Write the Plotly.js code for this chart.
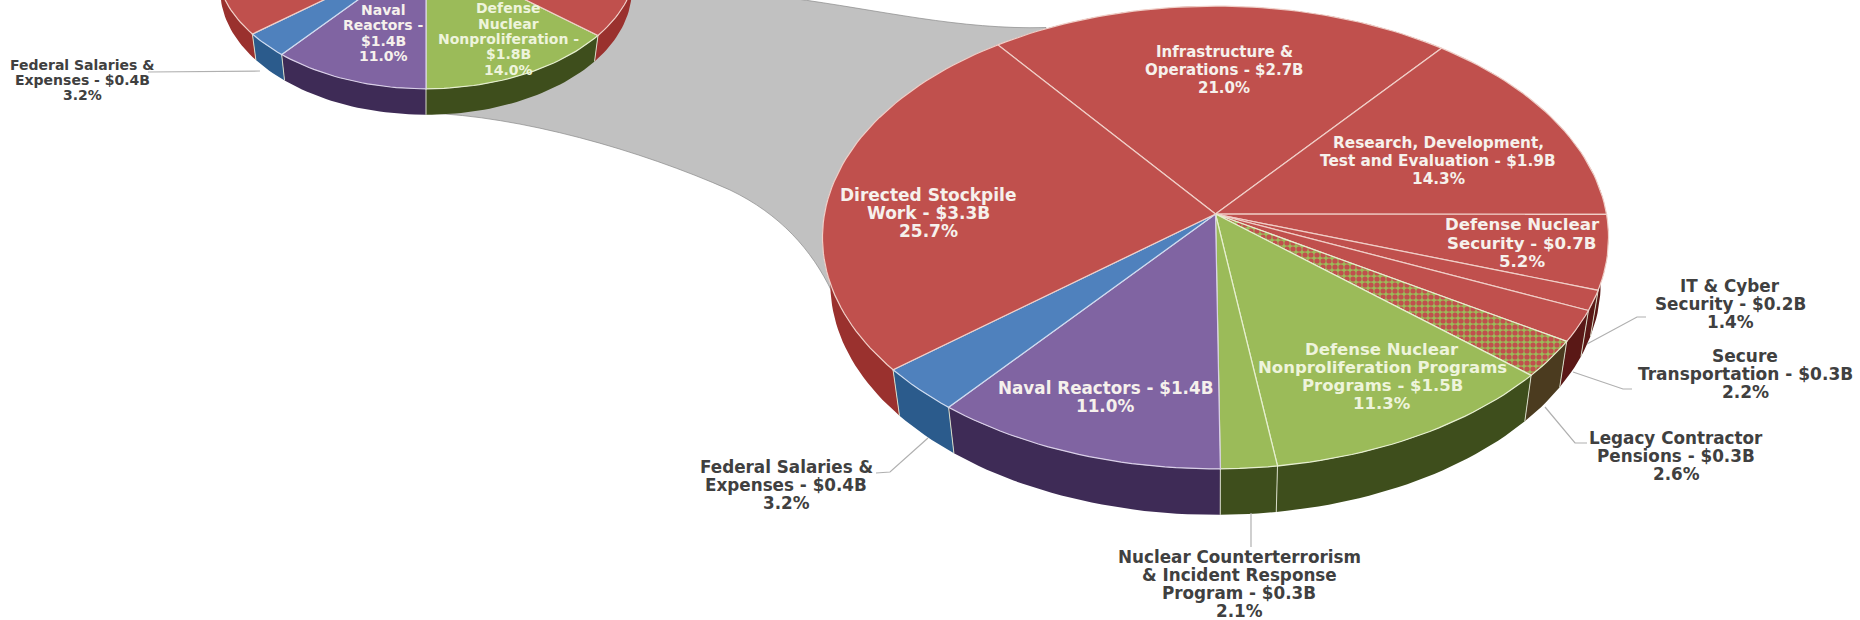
<!DOCTYPE html>
<html>
<head>
<meta charset="utf-8">
<script src="https://cdn.plot.ly/plotly-3.0.1.min.js"></script>
<style>html,body{margin:0;padding:0;background:#fff}#chart{width:1860px;height:620px}</style>
</head>
<body>
<div id="chart"></div>
<script>
// ---- data ----
const bigCategories = ["Infrastructure & Operations","Research, Development, Test and Evaluation","Defense Nuclear Security","IT & Cyber Security","Secure Transportation","Legacy Contractor Pensions","Defense Nuclear Nonproliferation Programs","Nuclear Counterterrorism & Incident Response Program","Naval Reactors","Federal Salaries & Expenses","Directed Stockpile Work"];
const bigShares = [21.0,14.3,5.2,1.4,2.2,2.6,11.3,2.1,11.0,3.2,25.7];
const smallCategories = ["Defense Nuclear Nonproliferation","Naval Reactors","Federal Salaries & Expenses","Weapons Activities"];
const smallShares = [14.0,11.0,3.2,71.8];

// ---- styles ----
const RED="#c0504d",GREEN="#9bbb59",PURPLE="#8064a2",BLUE="#4f81bd";
const bigTop=[RED,RED,RED,RED,RED,"pattern",GREEN,GREEN,PURPLE,BLUE,RED];
const bigWall=["#5a1816","#5a1816","#5a1816","#5a1816","#5a1816","#4b3b1f","#3e4e1c","#3e4e1c","#3e2b56","#2b5b8c","#9a312e"];
const smallTop=[GREEN,PURPLE,BLUE,RED];
const smallWall=["#3e4e1c","#3e2b56","#2b5b8c","#9a312e"];
const edge={[RED]:"#f0cfc8",[GREEN]:"#e6efcf",[PURPLE]:"#d9cfe8",[BLUE]:"#cfdcf0",pattern:"#e6efcf"};

// ---- perspective geometry of the two tilted discs ----
const bigDisc={cx:1215.5,cy:214,R:391,S:229,p:0.1015,depth:46,shrink:0.98,start:-37};
const smallDisc={cx:426,cy:-49,R:209,S:124,p:0.1,depth:26,shrink:0.98,start:129.6};

function rim(d,deg){const t=deg*Math.PI/180,u=Math.cos(t),v=Math.sin(t),k=1+d.p*u;
  return [d.cx+d.R*v/k,d.cy-d.S*u/k];}
function under(d,pt){return [d.cx+(pt[0]-d.cx)*d.shrink,pt[1]+d.depth];}
function arc(d,a,b){const n=Math.max(2,Math.ceil((b-a)/1.5)),o=[];
  for(let i=0;i<=n;i++)o.push(rim(d,a+(b-a)*i/n));return o;}

const traces=[];
function poly(pts,style,name){
  traces.push(Object.assign({type:"scatter",mode:"lines",x:pts.map(p=>p[0]),y:pts.map(p=>p[1]),
    fill:"toself",showlegend:false,name:name,hoverinfo:"name"},style));
}
function drawDisc(d,cats,shares,topCols,wallCols){
  const ang=[];let c=d.start;
  shares.forEach(s=>{ang.push([c,c+s*3.6]);c+=s*3.6;});
  ang.forEach((a,i)=>{
    const top=arc(d,a[0],a[1]),bot=top.map(p=>under(d,p)).reverse();
    poly(top.concat(bot,[top[0]]),{fillcolor:wallCols[i],line:{width:0}},cats[i]);
  });
  ang.forEach(a=>{
    const t=((a[0]%360)+360)%360;
    if(t>100&&t<262){const p=rim(d,a[0]),q=under(d,p);
      traces.push({type:"scatter",mode:"lines",x:[p[0],q[0]],y:[p[1],q[1]],line:{color:"#d8dcc8",width:1},showlegend:false,hoverinfo:"skip"});}
  });
  ang.forEach((a,i)=>{
    const pts=[[d.cx,d.cy]].concat(arc(d,a[0],a[1]),[[d.cx,d.cy]]);
    const col=topCols[i];
    const st={line:{color:edge[col],width:1.2}};
    if(col==="pattern"){st.fillcolor=GREEN;st.fillpattern={shape:".",fgcolor:RED,bgcolor:GREEN,size:6,solidity:0.6,fillmode:"replace"};}
    else st.fillcolor=col;
    poly(pts,st,cats[i]);
  });
}
drawDisc(smallDisc,smallCategories,smallShares,smallTop,smallWall);
drawDisc(bigDisc,bigCategories,bigShares,bigTop,bigWall);

// ---- labels: lines, centre x, centre y, colour, font size, line step ----
const WHITE="#f6f1ec",LIGHT="#eef4dc",DARK="#404040";
const labels=[
 [["Infrastructure &","Operations - $2.7B","21.0%"],1224,70,WHITE,15,18.3],
 [["Research, Development,","Test and Evaluation - $1.9B","14.3%"],1438,161,WHITE,15.3,18.3],
 [["Directed Stockpile","Work - $3.3B","25.7%"],928,213,WHITE,17,18.3],
 [["Defense Nuclear","Security - $0.7B","5.2%"],1522,243,WHITE,16.6,18.3],
 [["IT & Cyber","Security - $0.2B","1.4%"],1730,304,DARK,16.8,18],
 [["Secure","Transportation - $0.3B","2.2%"],1745,374,DARK,17,18],
 [["Legacy Contractor","Pensions - $0.3B","2.6%"],1676,456,DARK,16.8,18],
 [["Defense Nuclear","Nonproliferation Programs","Programs - $1.5B","11.3%"],1382,376,LIGHT,16.5,18],
 [["Naval Reactors - $1.4B","11.0%"],1105,397,WHITE,16.8,18],
 [["Federal Salaries &","Expenses - $0.4B","3.2%"],786,485,DARK,16.8,18],
 [["Nuclear Counterterrorism","& Incident Response","Program - $0.3B","2.1%"],1239,584,DARK,16.8,18],
 [["Federal Salaries &","Expenses - $0.4B","3.2%"],82,80,DARK,14,15],
 [["Naval","Reactors -","$1.4B","11.0%"],383,33,WHITE,14,15.3],
 [["Defense","Nuclear","Nonproliferation -","$1.8B","14.0%"],508,39,LIGHT,14,15.3]
];
const annotations=[];
labels.forEach(l=>{
  l[0].forEach((line,i)=>annotations.push({text:line,x:l[1],y:l[2]+(i-(l[0].length-1)/2)*l[5],
    xref:"x",yref:"y",showarrow:false,xanchor:"center",yanchor:"middle",align:"center",
    font:{family:"DejaVu Sans",size:l[4],color:l[3],weight:700}}));
});

// ---- connector band and leader lines ----
const band={type:"path",layer:"below",xref:"x",yref:"y",fillcolor:"#c1c1c1",line:{color:"#8a8a8a",width:0.7},
  path:"M426,113 C520,116 640,150 730,190 C780,214 812,250 832,292 L1060,100 L1046,27.5 C960,30 880,10 790,-2 L426,-2 Z"};
const leader=(pts)=>({type:"path",layer:"above",xref:"x",yref:"y",line:{color:"#b0b0b0",width:1.2},
  path:"M"+pts.map(p=>p.join(",")).join(" L")});
const shapes=[band,
  leader([[148,72],[260,71]]),
  leader([[928,438],[890,472],[876,473]]),
  leader([[1251,513],[1251,547]]),
  leader([[1587,344],[1637,317],[1646,317]]),
  leader([[1573,372],[1623,389],[1632,389]]),
  leader([[1545,407],[1575,443],[1587,443]])
];

Plotly.newPlot("chart",traces,{
  width:1860,height:620,margin:{l:0,r:0,t:0,b:0},
  paper_bgcolor:"#fff",plot_bgcolor:"#fff",showlegend:false,
  xaxis:{range:[0,1860],visible:false,fixedrange:true},
  yaxis:{range:[620,0],visible:false,fixedrange:true},
  shapes:shapes,annotations:annotations
},{displayModeBar:false,staticPlot:true});
</script>
</body>
</html>
